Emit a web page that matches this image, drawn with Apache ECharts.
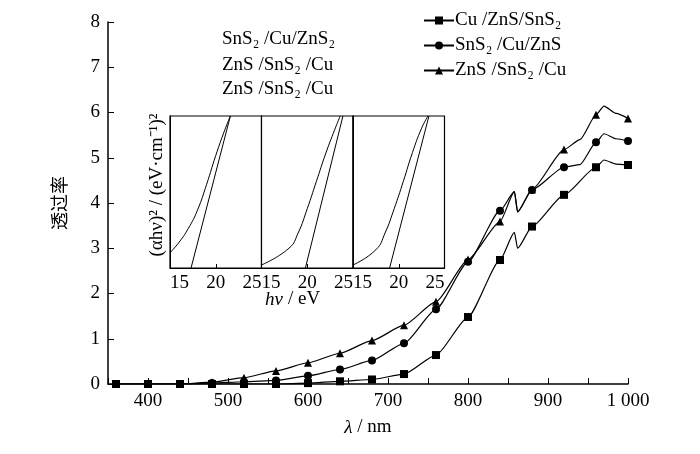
<!DOCTYPE html>
<html><head><meta charset="utf-8">
<script src="https://cdn.jsdelivr.net/npm/echarts@6/dist/echarts.min.js"></script>
<style>html,body{margin:0;background:#fff}#c{width:700px;height:454px}</style>
</head><body><div id="c"></div>
<script>
var FONT = 'Liberation Serif';
// main chart: [wavelength nm, transmittance, marked?]
var cuZnsSns2 = [[360,0,1],[400,0,1],[440,0,1],[480,0,1],[520,0,1],[560,0,1],[600,0.02,1],[640,0.06,1],[680,0.1,1],[720,0.22,1],[760,0.64,1],[800,1.48,1],[840,2.74,1],[858,3.35,0],[862,3.0,0],[880,3.48,1],[920,4.18,1],[960,4.79,1],[970,4.95,0],[985,4.86,0],[1000,4.84,1]];
var sns2CuZns = [[360,0,1],[400,0,1],[440,0,1],[480,0.02,1],[520,0.05,1],[560,0.08,1],[600,0.18,1],[640,0.32,1],[680,0.52,1],[720,0.9,1],[760,1.65,1],[800,2.7,1],[840,3.83,1],[858,4.25,0],[862,3.81,0],[880,4.29,1],[920,4.79,1],[940,4.85,0],[960,5.34,1],[970,5.53,0],[985,5.42,0],[1000,5.37,1]];
var znsSns2Cu = [[360,0,1],[400,0,1],[440,0,1],[480,0.04,1],[520,0.14,1],[560,0.29,1],[600,0.47,1],[640,0.68,1],[680,0.96,1],[720,1.3,1],[760,1.82,1],[800,2.75,1],[840,3.59,1],[858,4.25,0],[862,3.8,0],[880,4.3,1],[920,5.18,1],[940,5.4,0],[960,5.95,1],[970,6.14,0],[985,5.98,0],[1000,5.87,1]];
// inset: Tauc plots, [hv, normalised (αhv)^2]
var inset1Curve = [[15,0.1],[16,0.17],[17,0.26],[18,0.38],[19,0.55],[20,0.74],[21,0.91],[21.6,1]];
var inset1Fit = [[17.3,0],[21.6,1]];
var inset2Curve = [[15,0.02],[18,0.13],[19,0.23],[20,0.39],[21,0.57],[22,0.75],[23,0.91],[23.6,1]];
var inset2Fit = [[19.8,0],[23.9,1]];
var inset3Curve = [[15,0.02],[17.5,0.12],[18.5,0.23],[19.5,0.39],[20.5,0.57],[21.5,0.76],[22.5,0.92],[23.2,1]];
var inset3Fit = [[19,0],[23.3,1]];
var legendNames = ['Cu /ZnS/SnS₂','SnS₂ /Cu/ZnS','ZnS /SnS₂ /Cu'];
var insetTitles = ['SnS₂ /Cu/ZnS₂','ZnS /SnS₂ /Cu','ZnS /SnS₂ /Cu'];

var chart = echarts.init(document.getElementById('c'));
function pts(a){return a.map(function(p){return p[2]?{value:[p[0],p[1]]}:{value:[p[0],p[1]],symbol:'none'};});}
function mainSeries(name, data, sym){
  return {name:name,type:'line',data:pts(data),smooth:0.2,smoothMonotone:'x',symbol:sym,symbolSize:8,
    xAxisIndex:0,yAxisIndex:0,lineStyle:{color:'#000',width:1.2},itemStyle:{color:'#000'}};
}
var grids=[{left:108,right:72,top:22,bottom:70}], xAxes=[], yAxes=[], series=[];
xAxes.push({type:'value',gridIndex:0,min:350,max:1000,interval:50,
  axisLine:{lineStyle:{color:'#000',width:1.5}},axisTick:{inside:true,length:6,lineStyle:{color:'#000'}},
  axisLabel:{color:'#000',fontFamily:FONT,fontSize:19,formatter:function(v){return v%100===0?(v===1000?'1 000':String(v)):'';}},
  splitLine:{show:false},name:'{i|λ} / nm',nameLocation:'middle',nameGap:34,
  nameTextStyle:{fontFamily:FONT,fontSize:19,color:'#000',rich:{i:{fontFamily:FONT,fontSize:19,fontStyle:'italic'}}}});
yAxes.push({type:'value',gridIndex:0,min:0,max:8,interval:1,
  axisLine:{show:true,lineStyle:{color:'#000',width:1.5}},axisTick:{show:true,inside:true,length:6,lineStyle:{color:'#000'}},
  axisLabel:{color:'#000',fontFamily:FONT,fontSize:19},splitLine:{show:false},
  name:'透过率',nameLocation:'middle',nameGap:40,nameRotate:90,
  nameTextStyle:{fontFamily:'Noto Sans CJK SC',fontSize:18,color:'#000'}});
series.push(mainSeries(legendNames[0],cuZnsSns2,'rect'));
series.push(mainSeries(legendNames[1],sns2CuZns,'circle'));
series.push(mainSeries(legendNames[2],znsSns2Cu,'triangle'));
var insets=[[inset1Curve,inset1Fit],[inset2Curve,inset2Fit],[inset3Curve,inset3Fit]];
insets.forEach(function(d,i){
  var g=i+1;
  grids.push({left:170+i*91.5,top:116,width:91.5,height:152,show:true,borderColor:'#000',borderWidth:1.2,backgroundColor:'#fff'});
  xAxes.push({type:'value',gridIndex:g,min:15,max:25,interval:5,axisLine:{lineStyle:{color:'#000'}},
    axisTick:{inside:true,length:4,lineStyle:{color:'#000'}},splitLine:{show:false},
    axisLabel:{color:'#000',fontFamily:FONT,fontSize:19,margin:6,hideOverlap:false,showMinLabel:true,showMaxLabel:true,
      alignMinLabel:'left',alignMaxLabel:'right'}});
  yAxes.push({type:'value',gridIndex:g,min:0,max:1,axisLine:{show:true,lineStyle:{color:'#000'}},axisTick:{show:false},axisLabel:{show:false},splitLine:{show:false}});
  series.push({type:'line',xAxisIndex:g,yAxisIndex:g,data:d[0],smooth:true,symbol:'none',lineStyle:{color:'#000',width:1}});
  series.push({type:'line',xAxisIndex:g,yAxisIndex:g,data:d[1],symbol:'none',lineStyle:{color:'#000',width:1}});
});
var txt = {fontFamily:FONT,fontSize:19,fill:'#000'};
var option={
  animation:false,
  grid:grids,xAxis:xAxes,yAxis:yAxes,series:series,
  legend:{orient:'vertical',left:418,top:6,itemGap:6,itemWidth:30,itemHeight:10,
    data:legendNames,textStyle:{fontFamily:FONT,fontSize:19,color:'#000',padding:[0,0,0,-4]}},
  graphic:[
    {type:'text',left:222,top:30,style:Object.assign({text:insetTitles[0]},txt)},
    {type:'text',left:222,top:56,style:Object.assign({text:insetTitles[1]},txt)},
    {type:'text',left:222,top:80,style:Object.assign({text:insetTitles[2]},txt)},
    {type:'text',left:265,top:290,style:{text:'hν',font:'italic 19px "Liberation Serif"',fill:'#000'}},
    {type:'text',left:288,top:290,style:{text:'/ eV',font:'19px "Liberation Serif"',fill:'#000'}},
    {type:'text',x:157,y:185,rotation:Math.PI/2,style:{text:'(αhν)² / (eV·cm⁻¹)²',font:'19px "Liberation Serif"',fill:'#000',align:'center',verticalAlign:'middle'}}
  ]
};
chart.setOption(option);
</script></body></html>
